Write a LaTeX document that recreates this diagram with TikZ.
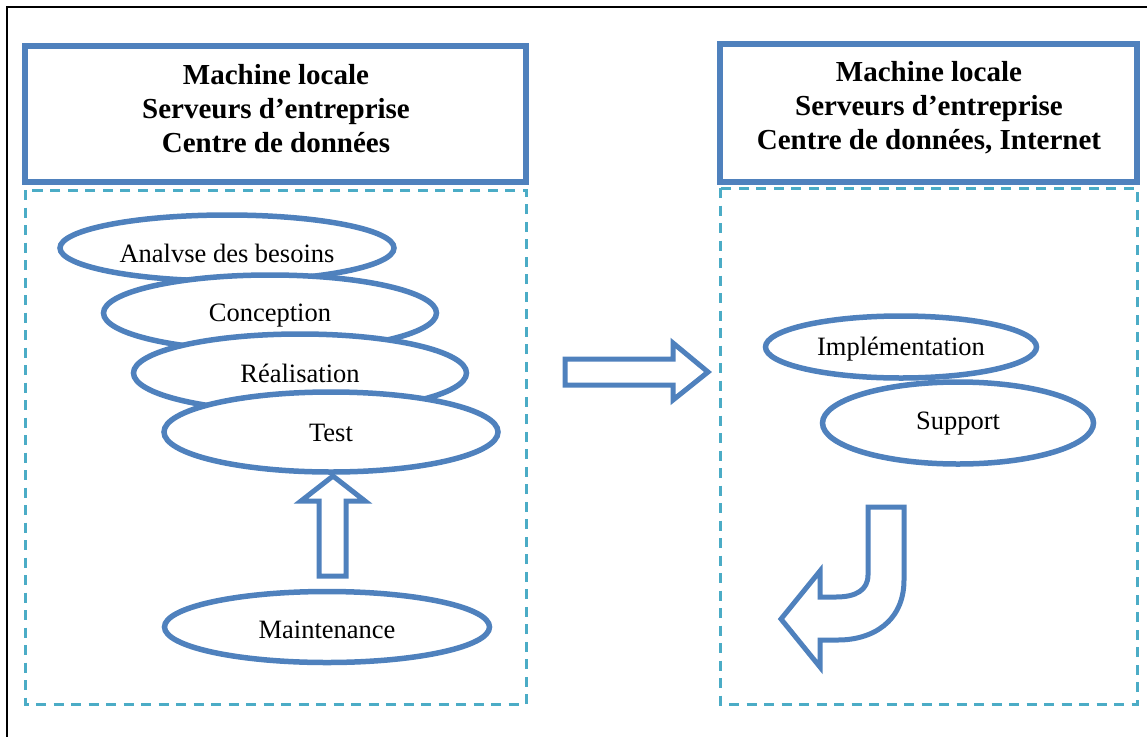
\documentclass[tikz,border=0pt]{standalone}
\usepackage{fontspec}
\setmainfont{Liberation Serif}
\usetikzlibrary{shapes.geometric}
\definecolor{offblue}{HTML}{4F81BD}
\definecolor{offcyan}{HTML}{4BACC6}
\newcommand{\dropby}[2]{\raisebox{-#1}[\height][\depth]{#2}}
\tikzset{
  hdrbox/.style={draw=offblue, line width=6pt},
  dashbox/.style={draw=offcyan, line width=3pt, dash pattern=on 10pt off 7.5pt},
  hdrtext/.style={align=center, font=\bfseries\fontsize{29}{34}\selectfont, inner sep=0pt},
  phase/.style={ellipse, draw=offblue, line width=5.5pt, fill=white, inner sep=0pt, font=\fontsize{26.5}{30}\selectfont},
  blockarrow/.style={draw=offblue, line width=5pt, fill=white, line join=miter}
}
\begin{document}
\begin{tikzpicture}[x=1pt,y=-1pt]
\useasboundingbox (0,0) rectangle (1147,736);
% outer frame
\draw[line width=2.2pt, black] (7,740) -- (7,7) -- (1150,7);
% header boxes
\draw[hdrbox] (25,46) rectangle (526,182);
\node[hdrtext] (hl) at (276,109) {Machine locale\\Serveurs d’entreprise\\Centre de données};
\draw[hdrbox] (720,44) rectangle (1137,182);
\node[hdrtext] (hr) at (929,108) {Machine locale\\Serveurs d’entreprise\\Centre de données, Internet};
% dashed boxes
\draw[dashbox] (25,190) rectangle (526,704);
\draw[dashbox] (720,188) rectangle (1137,704);
% left phases
\node[phase, minimum width=334pt, minimum height=66pt] (a) at (227,248) {\dropby{5pt}{Analvse des besoins}};
\node[phase, minimum width=333pt, minimum height=76pt] (c) at (270,313) {\dropby{3pt}{Conception}};
\node[phase, minimum width=333pt, minimum height=78pt] (r) at (300,373) {Réalisation};
\node[phase, minimum width=334pt, minimum height=80pt] (t) at (331,432) {\dropby{1pt}{Test}};
\node[phase, minimum width=325pt, minimum height=71pt] (m) at (327,627) {\dropby{3pt}{Maintenance}};
% up arrow
\draw[blockarrow] (319,576) -- (319,501) -- (301,501) -- (333,476) -- (365,501) -- (346,501) -- (346,576) -- cycle;
% right arrow
\draw[blockarrow] (565,359) -- (673,359) -- (673,343) -- (708,372) -- (673,400) -- (673,385) -- (565,385) -- cycle;
% right phases
\node[phase, minimum width=271pt, minimum height=62pt] (i) at (901,347) {\dropby{2pt}{Implémentation}};
\node[phase, minimum width=271pt, minimum height=82pt] (s) at (958,423) {\dropby{1pt}{Support}};
% curved arrow
\draw[blockarrow] (868,507) -- (904,507) -- (904,580)
  .. controls (904,622) and (872,640) .. (838,640) -- (820,640)
  -- (820,667) -- (781,619) -- (820,571) -- (820,597) -- (836,597)
  .. controls (856,597) and (868,590) .. (868,575) -- cycle;
\end{tikzpicture}
\end{document}
